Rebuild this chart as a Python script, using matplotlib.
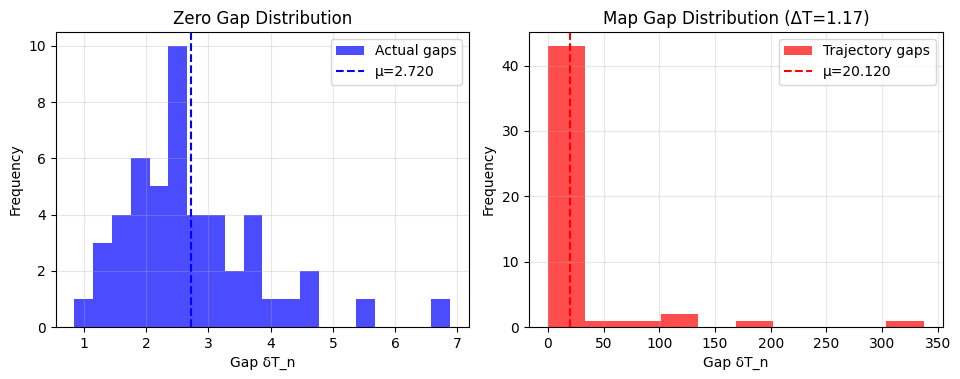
import matplotlib
matplotlib.use("Agg")
import matplotlib.pyplot as plt
import numpy as np

# Zero gap histogram (20 bins)
zero_min, zero_max, zero_nbins = 0.85, 6.885, 20
zero_counts = [1, 3, 4, 6, 5, 10, 4, 4, 2, 4, 1, 1, 2, 0, 0, 1, 0, 0, 0, 1]
zero_mean = 2.720

# Map gap histogram (10 bins)
map_min, map_max, map_nbins = 0.0, 337.4, 10
map_counts = [43, 1, 1, 2, 0, 1, 0, 0, 0, 1]
map_mean = 20.120
delta_T = 1.17

fig = plt.figure(figsize=(9.6, 3.79), dpi=100)
ax1 = fig.add_axes([0.058, 0.137, 0.4305, 0.779])
ax2 = fig.add_axes([0.551, 0.137, 0.431, 0.779])

ze = np.linspace(zero_min, zero_max, zero_nbins + 1)
zc = (ze[:-1] + ze[1:]) / 2
ax1.hist(zc, bins=ze, weights=zero_counts, color='blue', alpha=0.7, label='Actual gaps')
ax1.axvline(zero_mean, color='blue', linestyle='--', label=f'μ={zero_mean:.3f}')
ax1.set_title('Zero Gap Distribution', fontsize=12)
ax1.set_xlabel('Gap δT_n')
ax1.set_ylabel('Frequency')
ax1.legend(loc='upper right')
ax1.grid(True, alpha=0.3)

me = np.linspace(map_min, map_max, map_nbins + 1)
mc = (me[:-1] + me[1:]) / 2
ax2.hist(mc, bins=me, weights=map_counts, color='red', alpha=0.7, label='Trajectory gaps')
ax2.axvline(map_mean, color='red', linestyle='--', label=f'μ={map_mean:.3f}')
ax2.set_title(f'Map Gap Distribution (ΔT={delta_T:.2f})', fontsize=12)
ax2.set_xlabel('Gap δT_n')
ax2.set_ylabel('Frequency')
ax2.legend(loc='upper right')
ax2.grid(True, alpha=0.3)

fig.savefig('out.png', dpi=100)
